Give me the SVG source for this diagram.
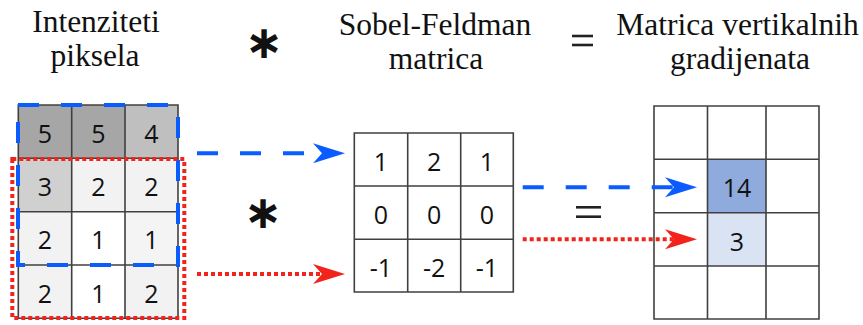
<svg xmlns="http://www.w3.org/2000/svg" width="863" height="325" viewBox="0 0 863 325">
<style>
.hdr{font-family:"Liberation Serif","Times New Roman",serif;font-size:31.5px;fill:#111;text-anchor:middle}
.num{font-family:"Open Sans","Liberation Sans",sans-serif;font-size:25px;fill:#111;text-anchor:middle}
.op{font-family:"DejaVu Sans",sans-serif;font-size:46px;font-weight:bold;fill:#111;text-anchor:middle}
.grid{fill:none;stroke:#404040;stroke-width:1.6}
.eq{stroke:#222;stroke-width:2.6}
.blue{fill:none;stroke:#0a5cff;stroke-width:4;stroke-dasharray:21 22}
.red{fill:none;stroke:#f2231a;stroke-width:4;stroke-dasharray:4 3}
</style>
<defs>
<marker id="ahb" markerUnits="userSpaceOnUse" markerWidth="34" markerHeight="22" refX="20" refY="10" orient="auto"><path d="M0,0 L32,10 L0,20 L9,10 Z" fill="#0a5cff"/></marker>
<marker id="ahr" markerUnits="userSpaceOnUse" markerWidth="34" markerHeight="22" refX="20" refY="10" orient="auto"><path d="M0,0 L32,10 L0,20 L9,10 Z" fill="#f2231a"/></marker>
</defs>

<g id="header">
<text class="hdr" x="96" y="31.5">Intenziteti</text>
<text class="hdr" x="95" y="65.5">piksela</text>
<text class="op" x="264" y="58">∗</text>
<text class="hdr" x="435" y="34.5">Sobel-Feldman</text>
<text class="hdr" x="436" y="68.5">matrica</text>
<line class="eq" x1="572" y1="36" x2="593" y2="36"/>
<line class="eq" x1="572" y1="45" x2="593" y2="45"/>
<text class="hdr" x="737.5" y="34.5">Matrica vertikalnih</text>
<text class="hdr" x="740" y="68.5">gradijenata</text>
</g>

<g id="pixels">
<rect x="18.3" y="105" width="53.4" height="53.3" fill="#a6a6a6"/>
<rect x="71.7" y="105" width="53.3" height="53.3" fill="#a6a6a6"/>
<rect x="125" y="105" width="53" height="53.3" fill="#bfbfbf"/>
<rect x="18.3" y="158.3" width="53.4" height="53.4" fill="#d0d0d0"/>
<rect x="71.7" y="158.3" width="53.3" height="53.4" fill="#f2f2f2"/>
<rect x="125" y="158.3" width="53" height="53.4" fill="#f2f2f2"/>
<rect x="18.3" y="211.7" width="53.4" height="53.3" fill="#f2f2f2"/>
<rect x="71.7" y="211.7" width="53.3" height="53.3" fill="#ffffff"/>
<rect x="125" y="211.7" width="53" height="53.3" fill="#f4f4f4"/>
<rect x="18.3" y="265" width="53.4" height="53.3" fill="#f2f2f2"/>
<rect x="71.7" y="265" width="53.3" height="53.3" fill="#ffffff"/>
<rect x="125" y="265" width="53" height="53.3" fill="#f2f2f2"/>
<path class="grid" d="M18.3,105 H178 V318.3 H18.3 Z M71.7,105 V318.3 M125,105 V318.3 M18.3,158.3 H178 M18.3,211.7 H178 M18.3,265 H178"/>
<text class="num" x="45" y="142.7">5</text>
<text class="num" x="98.3" y="142.7">5</text>
<text class="num" x="151.5" y="142.7">4</text>
<text class="num" x="45" y="196">3</text>
<text class="num" x="98.3" y="196">2</text>
<text class="num" x="151.5" y="196">2</text>
<text class="num" x="45" y="249.3">2</text>
<text class="num" x="98.3" y="249.3">1</text>
<text class="num" x="151.5" y="249.3">1</text>
<text class="num" x="45" y="302.7">2</text>
<text class="num" x="98.3" y="302.7">1</text>
<text class="num" x="151.5" y="302.7">2</text>
</g>

<g id="windows">
<rect class="blue" x="18" y="105" width="160" height="160"/>
<rect class="red" x="12.3" y="159" width="172" height="159"/>
</g>

<g id="op-mid">
<text class="op" x="263" y="228">∗</text>
</g>

<g id="sobel">
<rect x="354.3" y="133" width="159" height="159" fill="#ffffff"/>
<path class="grid" d="M354.3,133 H513.3 V292 H354.3 Z M407.7,133 V292 M460.7,133 V292 M354.3,186 H513.3 M354.3,239.3 H513.3"/>
<text class="num" x="381" y="170.5">1</text>
<text class="num" x="434.2" y="170.5">2</text>
<text class="num" x="487" y="170.5">1</text>
<text class="num" x="381" y="223.7">0</text>
<text class="num" x="434.2" y="223.7">0</text>
<text class="num" x="487" y="223.7">0</text>
<text class="num" x="381" y="276.7">-1</text>
<text class="num" x="434.2" y="276.7">-2</text>
<text class="num" x="487" y="276.7">-1</text>
</g>

<g id="eq-mid">
<line class="eq" x1="576" y1="207.3" x2="601" y2="207.3"/>
<line class="eq" x1="576" y1="216.7" x2="601" y2="216.7"/>
</g>

<g id="gradients">
<rect x="707.5" y="159.3" width="58.5" height="53.4" fill="#8faadc"/>
<rect x="707.5" y="212.7" width="58.5" height="53.3" fill="#dae3f3"/>
<path class="grid" d="M654,106 H819 V319 H654 Z M707.5,106 V319 M766,106 V319 M654,159.3 H819 M654,212.7 H819 M654,266 H819"/>
<text class="num" x="737" y="197">14</text>
<text class="num" x="737" y="250.5">3</text>
</g>

<g id="connectors">
<line class="blue" x1="197" y1="153.3" x2="333" y2="153.3" marker-end="url(#ahb)"/>
<line class="red" x1="197" y1="274" x2="333" y2="274" marker-end="url(#ahr)"/>
<line class="blue" x1="522.7" y1="187.3" x2="685" y2="187.3" marker-end="url(#ahb)"/>
<line class="red" x1="522.7" y1="239.3" x2="685" y2="239.3" marker-end="url(#ahr)"/>
</g>
</svg>
